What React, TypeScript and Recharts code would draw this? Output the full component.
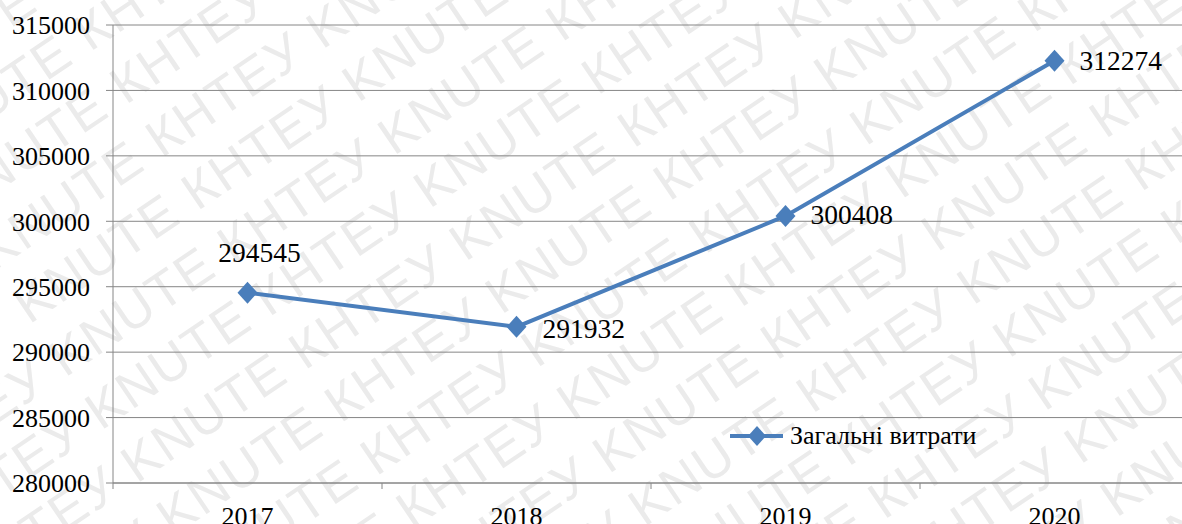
import { LineChart, Line, XAxis, YAxis, CartesianGrid, LabelList } from 'recharts';

const YEARS = ['2017', '2018', '2019', '2020'];
const TOTAL_COSTS = [294545, 291932, 300408, 312274];
const Y_TICKS = [280000, 285000, 290000, 295000, 300000, 305000, 310000, 315000];
const SERIES_NAME = 'Загальні витрати';

const data = YEARS.map((year, i) => ({ year, value: TOTAL_COSTS[i] }));

const LINE_COLOR = '#4A7EBB';
const GRID_COLOR = '#868686';
const SERIF = '"Liberation Serif", "Times New Roman", serif';
const HALF_BAND = 134.5;

// where each value label sits relative to its point (Excel: first above, rest right)
const LABEL_PLACEMENT = [
    { dx: 12, dy: -31, anchor: 'middle' },
    { dx: 26, dy: 11, anchor: 'start' },
    { dx: 25, dy: 8, anchor: 'start' },
    { dx: 25, dy: 9, anchor: 'start' },
];

const Diamond = (props: any) => {
    const { cx, cy } = props;
    if (cx == null || cy == null) return null;
    return <polygon points={`${cx},${cy - 11} ${cx + 10},${cy} ${cx},${cy + 11} ${cx - 10},${cy}`} fill={LINE_COLOR} />;
};

const ValueLabel = (props: any) => {
    const { x, y, value, index } = props;
    const p = LABEL_PLACEMENT[index] || LABEL_PLACEMENT[1];
    return (
        <text x={x + p.dx} y={y + p.dy} textAnchor={p.anchor} fill="#000" fontSize={27.5} fontFamily={SERIF}>
            {value}
        </text>
    );
};

// category label in the middle, small tick mark on the left band boundary
const YearTick = (props: any) => {
    const { x, y, payload } = props;
    return (
        <g>
            <line x1={x - HALF_BAND} x2={x - HALF_BAND} y1={y - 6} y2={y} stroke={GRID_COLOR} />
            <text x={x} y={y + 36} textAnchor="middle" fill="#000" fontSize={26} fontFamily={SERIF}>
                {payload.value}
            </text>
        </g>
    );
};

const Watermark = () => {
    const rows = [];
    for (let k = -8; k < 16; k++) {
        rows.push(
            <text key={k} x={-500} y={k * 64} fontSize={52} fontFamily='"Liberation Sans", Arial, sans-serif' fill="#ebebeb" letterSpacing={2}>
                {'КНТЕУ KNUTE '.repeat(9)}
            </text>
        );
    }
    return (
        <svg width={1182} height={524} style={{ position: 'absolute', left: 0, top: 0 }}>
            <g transform="rotate(-34 591 262)">{rows}</g>
        </svg>
    );
};

export default function App() {
    return (
        <div style={{ position: 'absolute', left: 0, top: 0, width: 1182, height: 524, overflow: 'hidden', background: '#fff' }}>
            <Watermark />
            <div style={{ position: 'absolute', left: 0, top: 0 }}>
                <LineChart width={1190} height={524} data={data} margin={{ top: 25, right: 1, left: 0, bottom: 0 }}>
                    <CartesianGrid horizontal vertical={false} stroke={GRID_COLOR} />
                    <XAxis
                        dataKey="year"
                        height={41}
                        padding={{ left: HALF_BAND, right: HALF_BAND }}
                        axisLine={{ stroke: GRID_COLOR }}
                        tickLine={false}
                        tickSize={6}
                        tickMargin={0}
                        interval={0}
                        tick={<YearTick />}
                    />
                    <YAxis
                        width={113}
                        domain={[280000, 315000]}
                        ticks={Y_TICKS}
                        interval={0}
                        axisLine={{ stroke: GRID_COLOR }}
                        tickLine={{ stroke: GRID_COLOR }}
                        tickSize={7}
                        tickMargin={16}
                        tick={{ fill: '#000', fontSize: 26, fontFamily: SERIF }}
                    />
                    <Line
                        type="linear"
                        dataKey="value"
                        name={SERIES_NAME}
                        stroke={LINE_COLOR}
                        strokeWidth={4}
                        dot={<Diamond />}
                        activeDot={false}
                        isAnimationActive={false}
                    >
                        <LabelList dataKey="value" content={<ValueLabel />} />
                    </Line>
                </LineChart>
            </div>
            <div style={{ position: 'absolute', left: 728, top: 421, display: 'flex', alignItems: 'center', fontFamily: SERIF, fontSize: 26, color: '#000', whiteSpace: 'nowrap' }}>
                <svg width={58} height={24} style={{ marginRight: 4 }}>
                    <line x1={2} x2={55} y1={12} y2={12} stroke={LINE_COLOR} strokeWidth={4} />
                    <polygon points="29,2 38,12 29,22 20,12" fill={LINE_COLOR} />
                </svg>
                <span>{SERIES_NAME}</span>
            </div>
        </div>
    );
}
